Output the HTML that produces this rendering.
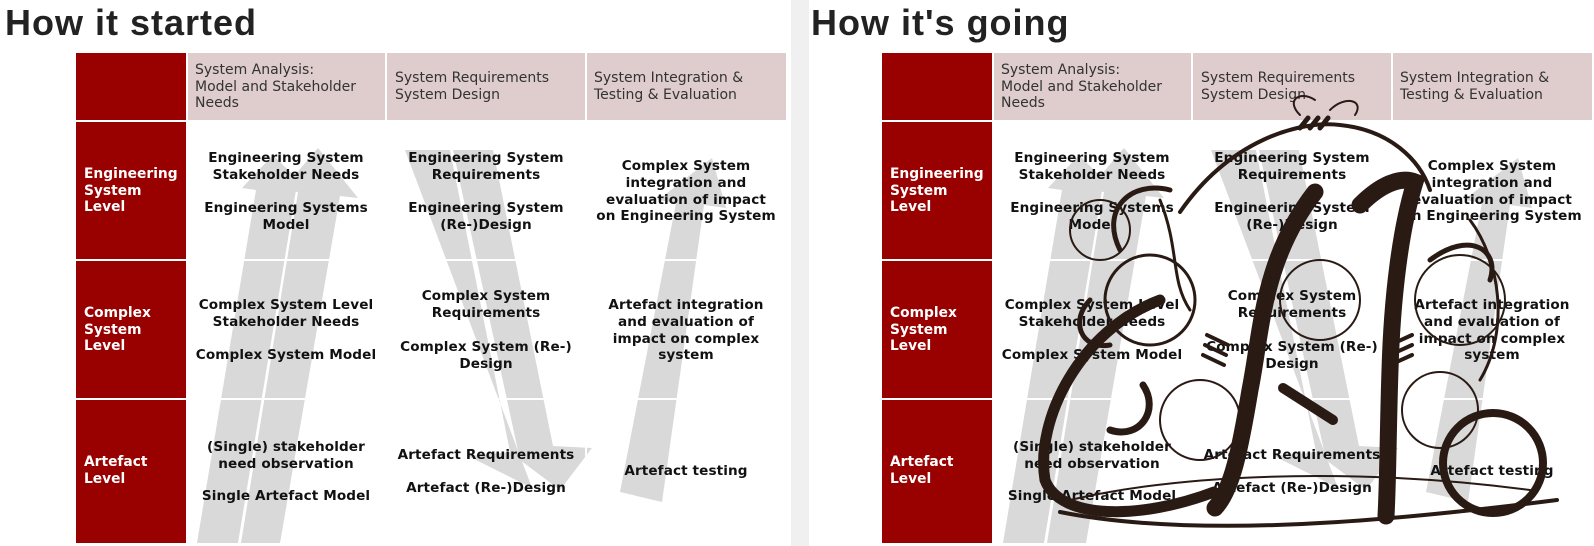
<!DOCTYPE html>
<html><head><meta charset="utf-8"><style>
*{margin:0;padding:0;box-sizing:border-box}
body{width:1594px;height:546px;background:#fff;position:relative;overflow:hidden;font-family:"DejaVu Sans",Verdana,sans-serif}
.sep{position:absolute;left:791px;top:0;width:18px;height:546px;background:#f0f0f0}
.panel{position:absolute;top:0;width:791px;height:546px}
.title{position:absolute;left:5px;top:2px;font:bold 36px "Liberation Sans",sans-serif;color:#222;letter-spacing:1px}
.cell{position:absolute}
.red{background:#990000}
.pink{background:#dfcccc}
.h{position:absolute;font-size:14px;line-height:16.5px;color:#333}
.t{position:absolute;font-weight:bold;font-size:13.6px;line-height:16.8px;color:#111;text-align:center;width:200px;white-space:nowrap;letter-spacing:0.1px}
.r{position:absolute;font-weight:bold;font-size:13.8px;line-height:16.6px;color:#fff;left:84px}
svg{position:absolute;left:0;top:0}
</style></head><body>
<div class="sep"></div>

<div class="panel" style="left:0">
<div class="title">How it started</div>
<div class="cell red" style="left:76px;top:53px;width:110px;height:490px"></div>
<div class="cell pink" style="left:188px;top:53px;width:197px;height:67px"></div>
<div class="cell pink" style="left:387px;top:53px;width:198px;height:67px"></div>
<div class="cell pink" style="left:587px;top:53px;width:199px;height:67px"></div>
<svg width="791" height="546">
 <g fill="#d9d9d9">
  <polygon points="197,543 238,543 296,190 310,192 273,155 242,188 256,190"/>
  <polygon points="241,543 280,543 340,196 358,198 318,148 282,190 298,192"/>
  <polygon points="405,150 450,150 510,452 468,456 532,488"/>
  <polygon points="453,150 493,150 553,446 592,448 560,490 520,460"/>
  <polygon points="620,492 662,502 704,205 726,208 712,158 658,200 676,203"/>
 </g>
 <g stroke="#fff" stroke-width="2">
  <line x1="76" y1="121" x2="786" y2="121"/>
  <line x1="76" y1="260" x2="786" y2="260"/>
  <line x1="76" y1="399" x2="786" y2="399"/>
  <line x1="187" y1="53" x2="187" y2="543"/>
  <line x1="386" y1="53" x2="386" y2="543"/>
  <line x1="586" y1="53" x2="586" y2="543"/>
 </g>
</svg>
<div class="h" style="left:195px;top:62px">System Analysis:<br>Model and Stakeholder<br>Needs</div>
<div class="h" style="left:395px;top:70px">System Requirements<br>System Design</div>
<div class="h" style="left:594px;top:70px">System Integration &amp;<br>Testing &amp; Evaluation</div>
<div class="r" style="top:166px">Engineering<br>System<br>Level</div>
<div class="r" style="top:305px">Complex<br>System<br>Level</div>
<div class="r" style="top:454px">Artefact<br>Level</div>
<div class="t" style="left:186px;top:150px">Engineering System<br>Stakeholder Needs</div>
<div class="t" style="left:186px;top:200px">Engineering Systems<br>Model</div>
<div class="t" style="left:386px;top:150px">Engineering System<br>Requirements</div>
<div class="t" style="left:386px;top:200px">Engineering System<br>(Re-)Design</div>
<div class="t" style="left:586px;top:158px">Complex System<br>integration and<br>evaluation of impact<br>on Engineering System</div>
<div class="t" style="left:186px;top:297px">Complex System Level<br>Stakeholder Needs</div>
<div class="t" style="left:186px;top:347px">Complex System Model</div>
<div class="t" style="left:386px;top:288px">Complex System<br>Requirements</div>
<div class="t" style="left:386px;top:339px">Complex System (Re-)<br>Design</div>
<div class="t" style="left:586px;top:297px">Artefact integration<br>and evaluation of<br>impact on complex<br>system</div>
<div class="t" style="left:186px;top:439px">(Single) stakeholder<br>need observation</div>
<div class="t" style="left:186px;top:488px">Single Artefact Model</div>
<div class="t" style="left:386px;top:447px">Artefact Requirements</div>
<div class="t" style="left:386px;top:480px">Artefact (Re-)Design</div>
<div class="t" style="left:586px;top:463px">Artefact testing</div>
</div>

<div class="panel" style="left:806px">
<div class="title">How it's going</div>
<div class="cell red" style="left:76px;top:53px;width:110px;height:490px"></div>
<div class="cell pink" style="left:188px;top:53px;width:197px;height:67px"></div>
<div class="cell pink" style="left:387px;top:53px;width:198px;height:67px"></div>
<div class="cell pink" style="left:587px;top:53px;width:199px;height:67px"></div>
<svg width="791" height="546">
 <g fill="#d9d9d9">
  <polygon points="197,543 238,543 296,190 310,192 273,155 242,188 256,190"/>
  <polygon points="241,543 280,543 340,196 358,198 318,148 282,190 298,192"/>
  <polygon points="405,150 450,150 510,452 468,456 532,488"/>
  <polygon points="453,150 493,150 553,446 592,448 560,490 520,460"/>
  <polygon points="620,492 662,502 704,205 726,208 712,158 658,200 676,203"/>
 </g>
 <g stroke="#fff" stroke-width="2">
  <line x1="76" y1="121" x2="786" y2="121"/>
  <line x1="76" y1="260" x2="786" y2="260"/>
  <line x1="76" y1="399" x2="786" y2="399"/>
  <line x1="187" y1="53" x2="187" y2="543"/>
  <line x1="386" y1="53" x2="386" y2="543"/>
  <line x1="586" y1="53" x2="586" y2="543"/>
 </g>
</svg>
<div class="h" style="left:195px;top:62px">System Analysis:<br>Model and Stakeholder<br>Needs</div>
<div class="h" style="left:395px;top:70px">System Requirements<br>System Design</div>
<div class="h" style="left:594px;top:70px">System Integration &amp;<br>Testing &amp; Evaluation</div>
<div class="r" style="top:166px">Engineering<br>System<br>Level</div>
<div class="r" style="top:305px">Complex<br>System<br>Level</div>
<div class="r" style="top:454px">Artefact<br>Level</div>
<div class="t" style="left:186px;top:150px">Engineering System<br>Stakeholder Needs</div>
<div class="t" style="left:186px;top:200px">Engineering Systems<br>Model</div>
<div class="t" style="left:386px;top:150px">Engineering System<br>Requirements</div>
<div class="t" style="left:386px;top:200px">Engineering System<br>(Re-)Design</div>
<div class="t" style="left:586px;top:158px">Complex System<br>integration and<br>evaluation of impact<br>on Engineering System</div>
<div class="t" style="left:186px;top:297px">Complex System Level<br>Stakeholder Needs</div>
<div class="t" style="left:186px;top:347px">Complex System Model</div>
<div class="t" style="left:386px;top:288px">Complex System<br>Requirements</div>
<div class="t" style="left:386px;top:339px">Complex System (Re-)<br>Design</div>
<div class="t" style="left:586px;top:297px">Artefact integration<br>and evaluation of<br>impact on complex<br>system</div>
<div class="t" style="left:186px;top:439px">(Single) stakeholder<br>need observation</div>
<div class="t" style="left:186px;top:488px">Single Artefact Model</div>
<div class="t" style="left:386px;top:447px">Artefact Requirements</div>
<div class="t" style="left:386px;top:480px">Artefact (Re-)Design</div>
<div class="t" style="left:586px;top:463px">Artefact testing</div>
</div>

<svg width="1594" height="546" style="left:0;top:0">
 <g fill="none" stroke="#2a1a14" stroke-linecap="round">
  <path d="M1315,192 C1262,260 1262,330 1250,390 C1240,450 1232,490 1215,508" stroke-width="17"/>
  <path d="M1360,205 C1380,185 1400,176 1415,182 C1400,230 1392,300 1390,370 C1388,430 1388,480 1386,516" stroke-width="17"/>
  <path d="M1180,212 C1230,140 1300,120 1340,125 C1390,130 1420,160 1430,190" stroke-width="4"/>
  <path d="M1160,300 C1080,330 1035,420 1045,480 C1060,520 1140,520 1214,492" stroke-width="11"/>
  <path d="M1143,385 C1160,410 1140,440 1110,430" stroke-width="7"/>
  <path d="M1060,512 C1200,540 1400,520 1557,500" stroke-width="4"/>
  <path d="M1070,500 C1200,470 1380,470 1530,490" stroke-width="2"/>
  <circle cx="1493" cy="463" r="50" stroke-width="8"/>
  <circle cx="1150" cy="300" r="45" stroke-width="3"/>
  <circle cx="1320" cy="300" r="40" stroke-width="2"/>
  <circle cx="1460" cy="300" r="45" stroke-width="2"/>
  <circle cx="1100" cy="230" r="30" stroke-width="2"/>
  <circle cx="1200" cy="420" r="40" stroke-width="2"/>
  <circle cx="1440" cy="410" r="38" stroke-width="2"/>
  <path d="M1283,388 L1333,420" stroke-width="10"/>
  <path d="M1207,335 L1228,345 M1205,345 L1226,355 M1203,355 L1224,365" stroke-width="4"/>
  <path d="M1390,345 L1412,335 M1390,355 L1412,345 M1390,365 L1412,355" stroke-width="4"/>
  <path d="M1300,128 L1308,118 M1310,128 L1318,118 M1320,128 L1328,118" stroke-width="5"/>
  <path d="M1300,115 C1285,100 1300,90 1315,100 M1330,110 C1345,95 1365,100 1355,115" stroke-width="2"/>
  <path d="M1160,200 C1180,250 1170,280 1190,310" stroke-width="3"/>
  <path d="M1470,220 C1500,260 1510,330 1480,380" stroke-width="3"/>
  <path d="M1090,300 C1070,320 1080,350 1110,345" stroke-width="5"/>
  <path d="M1120,250 C1100,210 1130,180 1170,190" stroke-width="5"/>
  <path d="M1430,260 C1470,230 1500,250 1490,280" stroke-width="5"/>
 </g>
</svg>
</body></html>
